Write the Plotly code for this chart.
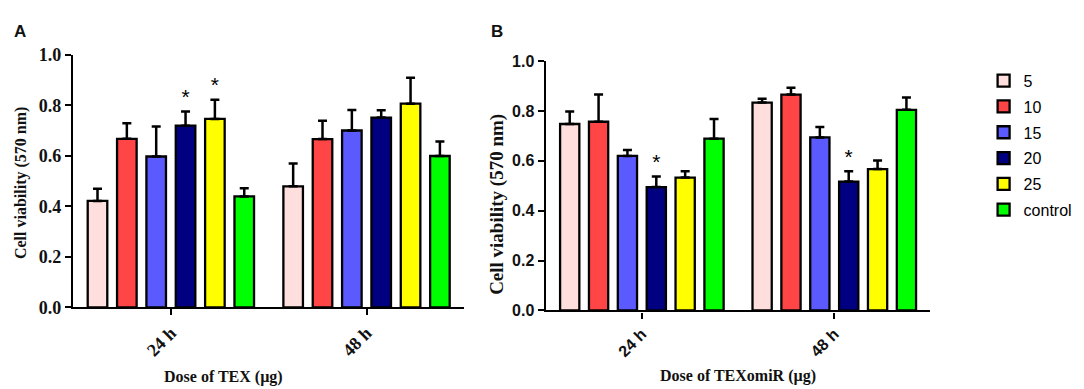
import plotly.graph_objects as go

groups = ["24 h", "48 h"]
doses = ["5", "10", "15", "20", "25", "control"]
colors = ["#FFDEDE", "#FF4545", "#5A5AFF", "#000080", "#FFFF00", "#00FF00"]

# panel A: TEX, rows = dose, cols = 24 h / 48 h
tex_mean = [[0.421, 0.479], [0.667, 0.666], [0.597, 0.700],
            [0.719, 0.751], [0.746, 0.806], [0.439, 0.599]]
tex_err = [[0.048, 0.090], [0.062, 0.073], [0.119, 0.081],
           [0.056, 0.029], [0.076, 0.103], [0.032, 0.057]]
tex_star = [[False, False], [False, False], [False, False],
            [True, False], [True, False], [False, False]]

# panel B: TEXomiR
omir_mean = [[0.748, 0.834], [0.757, 0.866], [0.620, 0.694],
             [0.495, 0.517], [0.533, 0.567], [0.689, 0.805]]
omir_err = [[0.050, 0.015], [0.109, 0.027], [0.024, 0.042],
            [0.042, 0.041], [0.025, 0.034], [0.079, 0.049]]
omir_star = [[False, False], [False, False], [False, False],
             [True, True], [False, False], [False, False]]

slot = 0.15
bar_w = 0.1

fig = go.Figure()


def add_panel(means, errs, stars, xa, ya, show_legend):
    for i, dose in enumerate(doses):
        xs = [g + (i - 2.5) * slot for g in range(len(groups))]
        fig.add_trace(go.Bar(
            x=xs, y=means[i], width=bar_w, name=dose,
            marker=dict(color=colors[i], line=dict(color="black", width=2.3)),
            error_y=dict(type="data", array=errs[i], arrayminus=[0, 0],
                         symmetric=False, color="black", thickness=2.5, width=4.5),
            xaxis=xa, yaxis=ya, showlegend=show_legend, legendgroup=dose,
        ))
        sx = [x for x, s in zip(xs, stars[i]) if s]
        sy = [m + e + 0.008 for m, e, s in zip(means[i], errs[i], stars[i]) if s]
        if sx:
            fig.add_trace(go.Scatter(
                x=sx, y=sy, mode="text", text=["*"] * len(sx),
                textposition="top center", textfont=dict(size=21, color="black", family="Liberation Sans"),
                xaxis=xa, yaxis=ya, showlegend=False, hoverinfo="skip",
            ))


add_panel(tex_mean, tex_err, tex_star, "x", "y", True)
add_panel(omir_mean, omir_err, omir_star, "x2", "y2", False)

serif_bold = dict(family="Liberation Serif", size=18, color="#111")
sans_bold = dict(family="Liberation Sans", size=16, color="#111")

xcommon = dict(range=[-0.5, 1.5], tickvals=[0, 1], ticktext=[f"<b>{g}</b>" for g in groups],
               tickangle=-45, showline=True, linecolor="black", linewidth=2.3,
               ticks="outside", ticklen=6, tickwidth=2, tickcolor="black",
               showgrid=False, zeroline=False, fixedrange=True)
ycommon = dict(range=[0, 1.0], dtick=0.2, tickformat=".1f", showline=True,
               linecolor="black", linewidth=2.3, ticks="outside", ticklen=6,
               tickwidth=2, tickcolor="black", showgrid=False, zeroline=False)

fig.update_layout(
    width=1084, height=389, margin=dict(l=0, r=0, t=0, b=0),
    paper_bgcolor="white", plot_bgcolor="white", barmode="overlay",
    xaxis=dict(domain=[0.060, 0.421], anchor="y", tickfont=serif_bold, **xcommon),
    yaxis=dict(domain=[0.216, 0.9005], anchor="x", tickfont=serif_bold,
               tickprefix="<b>", ticksuffix="</b>", **ycommon),
    xaxis2=dict(domain=[0.496, 0.851], anchor="y2", tickfont=sans_bold, **xcommon),
    yaxis2=dict(domain=[0.2075, 0.883], anchor="x2", tickfont=sans_bold,
                tickprefix="<b>", ticksuffix="</b>", **ycommon),
    legend=dict(x=0.9, y=0.876, xanchor="left", yanchor="top",
                font=dict(family="Liberation Sans", size=16, color="black"),
                tracegroupgap=2, bgcolor="rgba(0,0,0,0)"),
)

# label positions in pixels of the 1084x389 picture
labels = [
    ("<b>A</b>", 12, 14, 0, "Liberation Sans", 17),
    ("<b>B</b>", 489, 14, 0, "Liberation Sans", 17),
    ("<b>Cell viability (570 nm)</b>", 13, 174, -90, "Liberation Serif", 16),
    ("<b>Cell viability (570 nm)</b>", 489, 197, -90, "Liberation Serif", 19),
    ("<b>Dose of TEX (µg)</b>", 215, 378, 0, "Liberation Serif", 16),
    ("<b>Dose of TEXomiR (µg)</b>", 730, 377, 0, "Liberation Serif", 16),
]
for text, px, py, ang, fam, size in labels:
    fig.add_annotation(text=text, x=px / 1084, y=1 - py / 389, xref="paper", yref="paper",
                       xanchor="center", yanchor="middle", textangle=ang, showarrow=False,
                       font=dict(family=fam, size=size, color="#111"))

fig.write_html("out.html")
